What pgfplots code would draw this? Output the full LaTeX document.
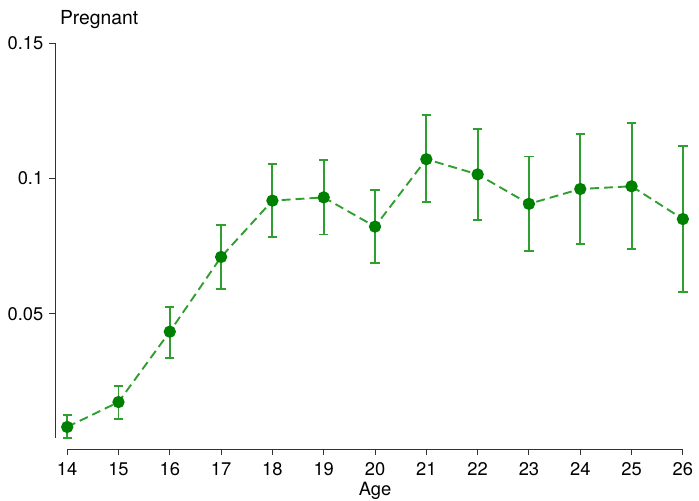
\documentclass[border=0pt]{standalone}
\usepackage{fontspec}
\setmainfont{TeX Gyre Heros}
\usepackage{pgfplots}
\usepackage{pgfplotstable}
\pgfplotsset{compat=1.18}
\definecolor{mkgreen}{RGB}{0,128,0}
\definecolor{lngreen}{RGB}{48,158,48}
\definecolor{axgray}{RGB}{50,50,50}
\pgfplotstableread{
x y ep em
14 0.0082 0.0043 0.0040
15 0.0174 0.0061 0.0062
16 0.0434 0.0092 0.0096
17 0.0710 0.0119 0.0120
18 0.0918 0.0135 0.0135
19 0.0930 0.0137 0.0137
20 0.0822 0.0136 0.0135
21 0.1071 0.0162 0.0157
22 0.1015 0.0166 0.0167
23 0.0906 0.0175 0.0174
24 0.0961 0.0203 0.0204
25 0.0971 0.0235 0.0233
26 0.0850 0.0270 0.0269
}\data
\begin{document}
\fontsize{18}{21}\selectfont
\begin{tikzpicture}
\begin{axis}[
  scale only axis,
  width=631bp, height=408.4bp,
  xmin=13.77, xmax=26, ymin=0, ymax=0.15,
  axis x line*=bottom, axis y line*=left,
  axis line style={draw=none},
  clip=false,
  xtick={14,15,...,26},
  xticklabels={14,15,16,17,18,19,20,21,22,23,24,25,26},
  ytick={0.05,0.1,0.15},
  yticklabels={0.05,0.1,0.15},
  tick align=outside,
  major tick length=6bp,
  tick style={axgray, line width=1bp},
  xticklabel style={font=\fontsize{18.5}{21}\selectfont, yshift=-1bp},
  yticklabel style={font=\fontsize{18.5}{21}\selectfont, xshift=0bp},
]
\draw[axgray, line width=1bp] (axis cs:14,0) -- (axis cs:26,0);
\draw[axgray, line width=1bp] (axis cs:13.77,0.0042) -- (axis cs:13.77,0.15);
\addplot[draw=none, mark=none,
  error bars/.cd, y dir=both, y explicit,
  error bar style={lngreen, line width=1.9bp},
  error mark options={lngreen, line width=1.9bp, rotate=90, mark size=4.7bp}]
  table[x=x, y=y, y error plus=ep, y error minus=em] {\data};
\addplot[lngreen, line width=1.9bp, dash pattern=on 9bp off 5bp,
  mark=*, mark size=5.2bp, mark options={solid, draw=mkgreen, fill=mkgreen}]
  table[x=x, y=y] {\data};
\node[anchor=base west, font=\fontsize{19.5}{22}\selectfont, inner sep=0pt] at ([xshift=4.5bp, yshift=19bp]rel axis cs:0,1) {Pregnant};
\node[anchor=base, font=\fontsize{18.5}{21}\selectfont, inner sep=0pt] at ([yshift=-46.5bp]axis cs:20,0) {Age};
\end{axis}
\path[use as bounding box] (-55.7bp,-51.3bp) rectangle (643.3bp,451.7bp);
\end{tikzpicture}
\end{document}
